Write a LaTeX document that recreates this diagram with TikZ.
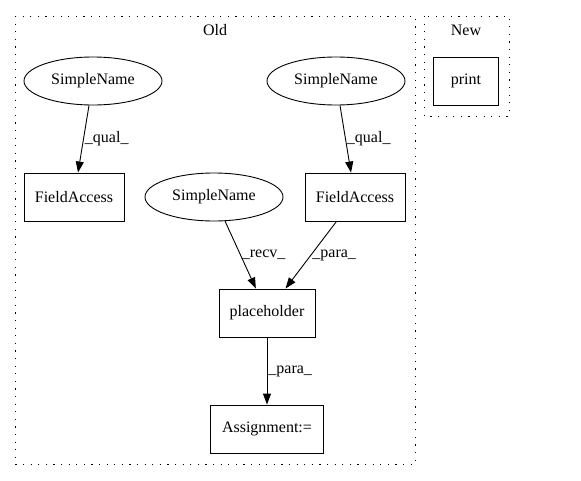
\documentclass[tikz,border=0pt]{standalone}
\usepackage{fontspec}
\setmainfont{Liberation Serif}
\usetikzlibrary{shapes.geometric,arrows.meta}
\tikzset{
  every node/.style={font=\fontsize{16}{19}\selectfont},
  cluster/.style={draw, line width=0.9pt, dash pattern=on 1.2pt off 6.4pt},
  ell/.style={draw, ellipse, line width=0.9pt, minimum width=138pt, minimum height=48pt, inner sep=0pt},
  box/.style={draw, rectangle, line width=0.9pt, minimum height=48pt, inner sep=0pt},
  edge/.style={draw, line width=0.9pt, -{Triangle[length=11pt,width=8pt]}},
  lbl/.style={anchor=west, inner sep=1pt}
}
\begin{document}
\begin{tikzpicture}[x=1pt,y=-1pt]
\useasboundingbox (0,0) rectangle (581,480);
% clusters
\draw[cluster] (15,16) rectangle (415,464);
\node (oldlabel) at (215,30) {Old};
\draw[cluster] (424,16) rectangle (509,116);
\node (newlabel) at (466,30) {New};
% nodes
\node[box, minimum width=65pt] (print) at (466,81) {print};
\node[ell] (sn1) at (93,81) {SimpleName};
\node[ell] (sn2) at (336,81) {SimpleName};
\node[box, minimum width=100pt] (fa1) at (74,197) {FieldAccess};
\node[ell] (sn3) at (214,197) {SimpleName};
\node[box, minimum width=100pt] (fa2) at (355,197) {FieldAccess};
\node[box, minimum width=96pt] (ph) at (267,313) {placeholder};
\node[box, minimum width=113pt] (asg) at (267,429) {Assignment:=};
% connectors
\draw[edge] (sn1) -- node[lbl] {\_qual\_} (fa1);
\draw[edge] (sn2) -- node[lbl] {\_qual\_} (fa2);
\draw[edge] (sn3) -- node[lbl] {\_recv\_} (ph);
\draw[edge] (fa2) -- node[lbl] {\_para\_} (ph);
\draw[edge] (ph) -- node[lbl] {\_para\_} (asg);
\end{tikzpicture}
\end{document}
